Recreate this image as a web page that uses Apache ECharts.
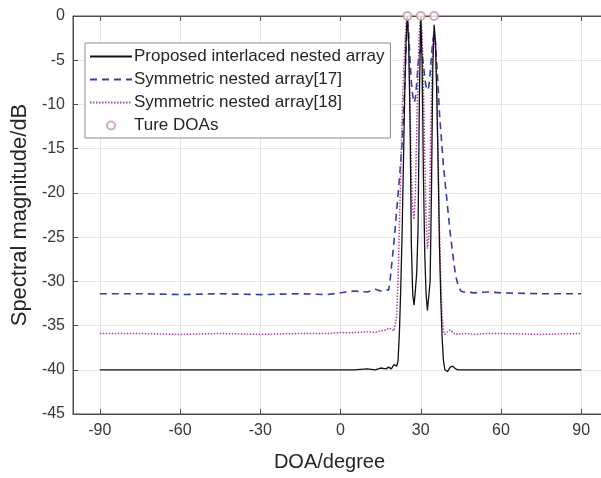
<!DOCTYPE html>
<html>
<head>
<meta charset="utf-8">
<script src="https://cdn.jsdelivr.net/npm/echarts@6/dist/echarts.min.js"></script>
<style>
  html, body { margin: 0; padding: 0; background: #fff; }
  #chart { width: 601px; height: 478px; }
</style>
</head>
<body>
<div id="chart"></div>
<script>
// DOA grid (degrees) shared by the three spectra
var doa = [-90, -75, -60, -45, -30, -15, -5, 0, 5, 10, 13, 15, 17, 18, 18.5, 19, 20, 21, 21.5, 22, 22.5, 23, 23.5, 24, 24.5,
    25, 25.5, 26, 26.5, 27, 27.5, 28, 28.5, 29, 29.5, 30, 30.5, 31, 31.5, 32, 32.5, 33, 33.5, 34, 34.5,
    35, 35.5, 36, 36.5, 37, 37.5, 38, 38.5, 39, 40, 41, 42, 43, 44, 45, 46, 47, 50, 55, 60, 75, 90];

var proposed = [-40, -40, -40, -40, -40, -40, -40, -40, -40, -39.9, -40, -39.8, -39.9, -39.7, -39.8, -39.9, -39.4, -39.6, -39, -36, -31, -25, -17, -9, -3,
    0, -3, -12, -26, -31.5, -32.7, -31, -29, -24, -9, 0, -5, -18, -27, -31.5, -33.3, -33.5, -30, -20, -6,
    -1, -3, -9, -17, -26, -32, -36.5, -39, -40, -40.2, -39.7, -39.6, -39.9, -40, -40, -40, -40, -40, -40, -40, -40, -40];

var symNested17 = [-31.4, -31.4, -31.5, -31.4, -31.5, -31.4, -31.5, -31.3, -31.1, -31.2, -30.9, -31.1, -30.9, -31, -30, -28.5, -25.5, -22, -20.2, -18.5, -16.5, -14.5, -11.5, -8, -3.5,
    -0.3, -2, -5, -7.5, -9, -9.8, -9.3, -7.5, -5.5, -4.2, -3.8, -4.2, -5.5, -7, -8, -8.4, -8, -6.5, -4.5, -2.8,
    -2, -3, -5.5, -8, -11, -13, -15, -17, -18.5, -21.5, -24.5, -27, -29.3, -30.5, -31.1, -31.2, -31.2, -31.3, -31.2, -31.3, -31.4, -31.4];

var symNested18 = [-35.9, -35.9, -36, -35.9, -36, -35.9, -35.9, -35.8, -35.8, -35.7, -35.8, -35.6, -35.5, -35.3, -35.2, -35.4, -35.6, -34, -30, -24, -18, -12, -7, -3.5, -1,
    0, -3, -10, -18, -22, -23, -20, -13, -6, -1.5, 0, -2, -8, -16, -23, -26.3, -25, -18, -9, -3,
    -1.5, -3, -8, -16, -24, -30, -34, -35.6, -36, -35.7, -35.5, -35.8, -36, -35.9, -36, -35.9, -35.9, -36, -35.9, -35.9, -36, -35.9];

var trueDoas = [25, 30, 35];
var xTicks = [-90, -60, -30, 0, 30, 60, 90];

var chart = echarts.init(document.getElementById('chart'));

function pairs(ys) {
    return doa.map(function (x, i) { return [x, ys[i]]; });
}

var font = 'Liberation Sans, Arial, sans-serif';
var noDot = { opacity: 0 };

var option = {
    animation: false,
    grid: {
        left: 73,
        width: 535,
        top: 16,
        bottom: 64,
        outerBoundsMode: 'none',
        show: true,
        borderColor: '#4d4d4d',
        borderWidth: 1
    },
    legend: {
        orient: 'vertical',
        left: 85,
        top: 43,
        padding: [5, 6, 4, 4],
        itemWidth: 42,
        itemHeight: 8,
        itemGap: 6,
        backgroundColor: '#fff',
        borderColor: '#8c8c8c',
        borderWidth: 1,
        textStyle: { fontFamily: font, fontSize: 17, color: '#262626', padding: [0, 0, 0, -3] },
        data: [
            { name: 'Proposed interlaced nested array', itemStyle: noDot },
            { name: 'Symmetric nested array[17]', itemStyle: noDot },
            { name: 'Symmetric nested array[18]', itemStyle: noDot },
            { name: 'Ture DOAs', icon: 'emptyCircle' }
        ]
    },
    xAxis: [{
        type: 'value',
        min: -100,
        max: 100,
        name: 'DOA/degree',
        nameLocation: 'middle',
        nameGap: 38,
        nameTextStyle: { fontFamily: font, fontSize: 20, color: '#262626', padding: [0, 22, 0, 0] },
        axisLine: { onZero: false, lineStyle: { color: '#4d4d4d' } },
        axisTick: { inside: true, length: 5, customValues: xTicks, lineStyle: { color: '#4d4d4d' } },
        axisLabel: { customValues: xTicks, margin: 9, fontFamily: font, fontSize: 16, color: '#383838' },
        splitLine: { show: true, lineStyle: { color: '#e6e6e6' } }
    }, {
        type: 'value',
        position: 'top',
        min: -100,
        max: 100,
        axisLine: { onZero: false, lineStyle: { color: '#4d4d4d' } },
        axisTick: { inside: true, length: 5, customValues: xTicks, lineStyle: { color: '#4d4d4d' } },
        axisLabel: { show: false },
        splitLine: { show: false }
    }],
    yAxis: {
        type: 'value',
        min: -45,
        max: 0,
        interval: 5,
        name: 'Spectral magnitude/dB',
        nameLocation: 'middle',
        nameGap: 37,
        nameTextStyle: { fontFamily: font, fontSize: 22, color: '#262626' },
        axisLine: { show: true, onZero: false, lineStyle: { color: '#4d4d4d' } },
        axisTick: { show: true, inside: true, length: 5, lineStyle: { color: '#4d4d4d' } },
        axisLabel: { margin: 8, fontFamily: font, fontSize: 16, color: '#383838' },
        splitLine: { show: true, lineStyle: { color: '#e6e6e6' } }
    },
    series: [{
        name: 'Proposed interlaced nested array',
        type: 'line',
        symbol: 'none',
        data: pairs(proposed),
        lineStyle: { color: '#111', width: 1.3 },
        itemStyle: { color: '#111' },
        z: 4
    }, {
        name: 'Symmetric nested array[17]',
        type: 'line',
        symbol: 'none',
        data: pairs(symNested17),
        lineStyle: { color: '#34409a', width: 1.6, type: [7, 5] },
        itemStyle: { color: '#34409a' },
        z: 3
    }, {
        name: 'Symmetric nested array[18]',
        type: 'line',
        symbol: 'none',
        data: pairs(symNested18),
        lineStyle: { color: '#a8469e', width: 1.5, type: [1.5, 1.5] },
        itemStyle: { color: '#a8469e' },
        z: 3
    }, {
        name: 'Ture DOAs',
        type: 'scatter',
        symbol: 'emptyCircle',
        symbolSize: 8,
        clip: false,
        data: trueDoas.map(function (d) { return [d, 0]; }),
        itemStyle: { color: '#c49a9a', borderColor: '#b98c8c', borderWidth: 1 },
        z: 5
    }]
};

chart.setOption(option);
</script>
</body>
</html>
